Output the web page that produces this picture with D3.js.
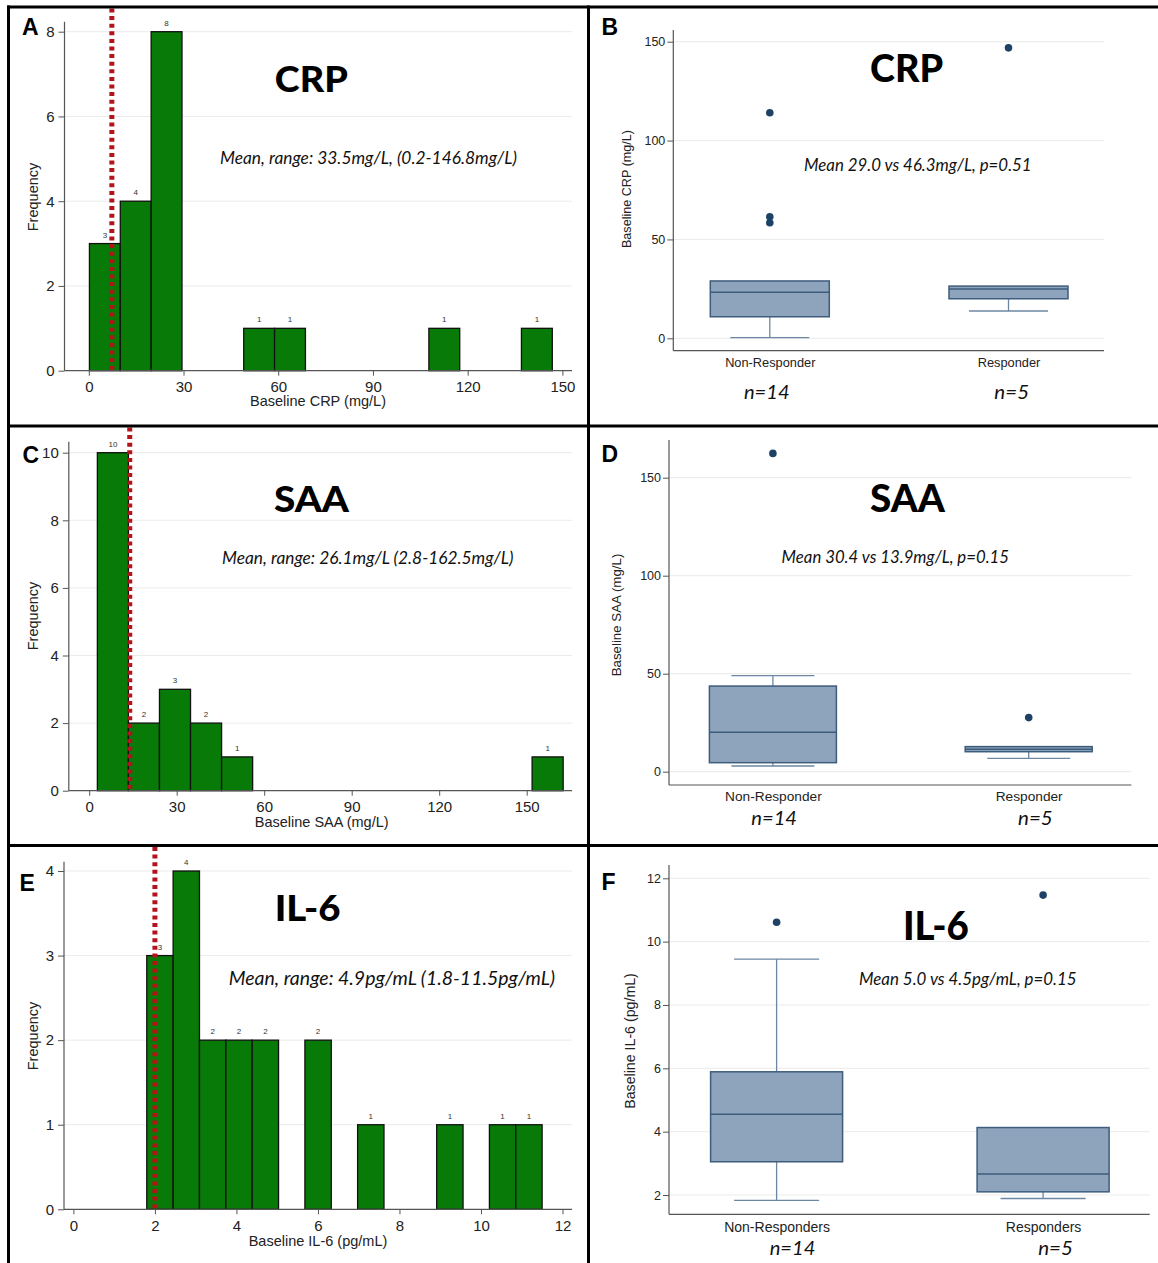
<!DOCTYPE html>
<html><head><meta charset="utf-8">
<script src="https://cdn.jsdelivr.net/npm/d3@7"></script>
<style>html,body{margin:0;padding:0;background:#fff;} svg{display:block;}</style>
</head><body><svg id="c" width="1158" height="1263"></svg>
<script>
// ---------------- DATA ----------------
// Histograms (15 equal-width bins from min to max, counts per bin)
const crpHistRange = [0.2, 146.8];
const crpHistCounts = [3, 4, 8, 0, 0, 1, 1, 0, 0, 0, 0, 1, 0, 0, 1];
const crpCutoff = 7.3;
const crpHistXTicks = [0, 30, 60, 90, 120, 150];
const crpFreqTicks = [0, 2, 4, 6, 8];

const saaHistRange = [2.8, 162.5];
const saaHistCounts = [10, 2, 3, 2, 1, 0, 0, 0, 0, 0, 0, 0, 0, 0, 1];
const saaCutoff = 13.9;
const saaHistXTicks = [0, 30, 60, 90, 120, 150];
const saaFreqTicks = [0, 2, 4, 6, 8, 10];

const il6HistRange = [1.8, 11.5];
const il6HistCounts = [3, 4, 2, 2, 2, 0, 2, 0, 1, 0, 0, 1, 0, 1, 1];
const il6Cutoff = 2.0;
const il6HistXTicks = [0, 2, 4, 6, 8, 10, 12];
const il6FreqTicks = [0, 1, 2, 3, 4];

// Box plots: [lower whisker, Q1, median, Q3, upper whisker]
const crpGroups = ["Non-Responder", "Responder"];
const crpBoxNonResp = [0.3, 10.9, 23.3, 29.0, 29.0];
const crpBoxResp = [13.8, 20.0, 24.9, 26.4, 26.4];
const crpOutNonResp = [114.1, 61.5, 58.4];
const crpOutResp = [146.9];
const crpBoxTicks = [0, 50, 100, 150];

const saaGroups = ["Non-Responder", "Responder"];
const saaBoxNonResp = [2.9, 4.6, 20.1, 43.7, 49.0];
const saaBoxResp = [6.8, 10.2, 11.4, 12.8, 12.8];
const saaOutNonResp = [162.4];
const saaOutResp = [27.6];
const saaBoxTicks = [0, 50, 100, 150];

const il6Groups = ["Non-Responders", "Responders"];
const il6BoxNonResp = [1.83, 3.05, 4.55, 5.89, 9.45];
const il6BoxResp = [1.89, 2.10, 2.66, 4.13, 4.13];
const il6OutNonResp = [10.61];
const il6OutResp = [11.47];
const il6BoxTicks = [2, 4, 6, 8, 10, 12];

const groupSizes = ["n=14", "n=5"];

// Texts
const histTitles = ["CRP", "SAA", "IL-6"];
const histNotes = ["Mean, range: 33.5mg/L, (0.2-146.8mg/L)",
                   "Mean, range: 26.1mg/L (2.8-162.5mg/L)",
                   "Mean, range: 4.9pg/mL (1.8-11.5pg/mL)"];
const histXLabels = ["Baseline CRP (mg/L)", "Baseline SAA (mg/L)", "Baseline IL-6 (pg/mL)"];
const boxNotes = ["Mean 29.0 vs 46.3mg/L, p=0.51",
                  "Mean 30.4 vs 13.9mg/L, p=0.15",
                  "Mean 5.0 vs 4.5pg/mL, p=0.15"];
const boxYLabels = ["Baseline CRP (mg/L)", "Baseline SAA (mg/L)", "Baseline IL-6 (pg/mL)"];
const panelLetters = ["A", "B", "C", "D", "E", "F"];

// ---------------- DRAWING ----------------
const svg = d3.select("#c");
const AX = "'Liberation Sans', Arial, Helvetica, sans-serif";
const CAL = "Lato, 'Open Sans', sans-serif";
const GREEN = "#087a08";
const BOXFILL = "#8da4bc";
const BOXLINE = "#3e5c7c";
const WHISK = "#6d87a2";
const DOT = "#1d4266";
const GRID = "#ebebeb";
const AXC = "#555";
const fmt = d3.format("~g");

// size text by cap height, then fit it to the measured width
function capFit(t, capH, w) {
  t.attr("font-size", capH / 0.7165);
  t.attr("textLength", w).attr("lengthAdjust", "spacingAndGlyphs");
  return t;
}

function styleAxis(g, fs) {
  g.select(".domain").remove();
  g.selectAll(".tick line").attr("stroke", AXC).attr("stroke-width", 1);
  g.selectAll(".tick text").attr("fill", "#222").attr("font-family", AX).attr("font-size", fs);
}

function histogram(cfg) {
  const g = svg.append("g");
  const x = d3.scaleLinear().domain(cfg.xAnch).range(cfg.xAnchP);
  const y = d3.scaleLinear().domain(cfg.yAnch).range(cfg.yAnchP);
  const y0 = y(0);
  g.selectAll(".grid").data(cfg.yTicks.filter(d => d > 0)).join("line")
    .attr("x1", cfg.axisL).attr("x2", cfg.axisR)
    .attr("y1", d => y(d)).attr("y2", d => y(d))
    .attr("stroke", GRID).attr("stroke-width", 1);
  const bw = (cfg.range[1] - cfg.range[0]) / cfg.counts.length;
  const bins = cfg.counts.map((c, i) => ({c, a: cfg.range[0] + i * bw, b: cfg.range[0] + (i + 1) * bw}))
    .filter(d => d.c > 0);
  g.selectAll(".bar").data(bins).join("rect")
    .attr("x", d => x(d.a)).attr("width", d => x(d.b) - x(d.a))
    .attr("y", d => y(d.c)).attr("height", d => y0 - y(d.c))
    .attr("fill", GREEN).attr("stroke", "#111").attr("stroke-width", 1.3);
  g.selectAll(".lbl").data(bins).join("text")
    .attr("x", d => (x(d.a) + x(d.b)) / 2).attr("y", d => y(d.c) - 6)
    .attr("text-anchor", "middle").attr("font-family", AX).attr("font-size", 8)
    .attr("fill", "#333").text(d => d.c);
  g.append("g").attr("transform", `translate(0,${y0})`)
    .call(d3.axisBottom(x).tickValues(cfg.xTicks).tickFormat(fmt).tickSize(5).tickPadding(6).tickSizeOuter(0))
    .call(a => styleAxis(a, 15));
  g.append("g").attr("transform", `translate(${cfg.axisL},0)`)
    .call(d3.axisLeft(y).tickValues(cfg.yTicks).tickFormat(fmt).tickSize(6).tickPadding(4).tickSizeOuter(0))
    .call(a => styleAxis(a, 15));
  g.append("line").attr("x1", cfg.axisL).attr("x2", cfg.axisL).attr("y1", cfg.topP).attr("y2", y0)
    .attr("stroke", AXC).attr("stroke-width", 1.2);
  g.append("line").attr("x1", cfg.axisL).attr("x2", cfg.axisR).attr("y1", y0).attr("y2", y0)
    .attr("stroke", AXC).attr("stroke-width", 1.2);
  g.append("line").attr("x1", x(cfg.cutoff)).attr("x2", x(cfg.cutoff))
    .attr("y1", cfg.panelTop).attr("y2", y0 - 1)
    .attr("stroke", "#b3141c").attr("stroke-width", 5).attr("stroke-dasharray", "4,3.6");
  g.append("text").attr("x", cfg.xLab[0]).attr("y", cfg.xLab[1]).attr("text-anchor", "middle")
    .attr("font-family", AX).attr("font-size", 14.5).attr("fill", "#222").text(cfg.xLabel);
  g.append("text").attr("transform", `translate(${cfg.yLab[0]},${cfg.yLab[1]}) rotate(-90)`)
    .attr("text-anchor", "middle").attr("font-family", AX).attr("font-size", 14.5).attr("fill", "#222")
    .text("Frequency");
  capFit(g.append("text").attr("x", cfg.title[0] - cfg.title[2] / 2).attr("y", cfg.title[1])
    .attr("font-family", CAL).attr("font-weight", 900).attr("fill", "#000").text(cfg.titleText), cfg.title[3], cfg.title[2]);
  capFit(g.append("text").attr("x", cfg.note[0] - cfg.note[2] / 2).attr("y", cfg.note[1])
    .attr("font-family", CAL).attr("font-style", "italic").attr("fill", "#111").text(cfg.noteText), cfg.note[3], cfg.note[2]);
  g.append("text").attr("x", cfg.letter[0]).attr("y", cfg.letter[1]).attr("font-family", AX)
    .attr("font-weight", 700).attr("font-size", 23).attr("fill", "#000").text(cfg.letterText);
}

function boxplot(cfg) {
  const g = svg.append("g");
  const y = d3.scaleLinear().domain(cfg.yAnch).range(cfg.yAnchP);
  const x = d3.scalePoint().domain(cfg.groups).range(cfg.centers);
  g.selectAll(".grid").data(cfg.yTicks).join("line")
    .attr("x1", cfg.axisL).attr("x2", cfg.axisR)
    .attr("y1", d => y(d)).attr("y2", d => y(d))
    .attr("stroke", GRID).attr("stroke-width", 1);
  cfg.groups.forEach((grp, i) => {
    const [lo, q1, md, q3, hi] = cfg.stats[i];
    const cx = x(grp), hw = cfg.boxW / 2, cw = cfg.capW / 2;
    if (lo < q1) {
      g.append("line").attr("x1", cx).attr("x2", cx).attr("y1", y(q1)).attr("y2", y(lo))
        .attr("stroke", WHISK).attr("stroke-width", 1.3);
      g.append("line").attr("x1", cx - cw).attr("x2", cx + cw).attr("y1", y(lo)).attr("y2", y(lo))
        .attr("stroke", WHISK).attr("stroke-width", 1.3);
    }
    if (hi > q3) {
      g.append("line").attr("x1", cx).attr("x2", cx).attr("y1", y(q3)).attr("y2", y(hi))
        .attr("stroke", WHISK).attr("stroke-width", 1.3);
      g.append("line").attr("x1", cx - cw).attr("x2", cx + cw).attr("y1", y(hi)).attr("y2", y(hi))
        .attr("stroke", WHISK).attr("stroke-width", 1.3);
    }
    g.append("rect").attr("x", cx - hw).attr("width", cfg.boxW)
      .attr("y", y(q3)).attr("height", y(q1) - y(q3))
      .attr("fill", BOXFILL).attr("stroke", BOXLINE).attr("stroke-width", 1.5);
    g.append("line").attr("x1", cx - hw).attr("x2", cx + hw).attr("y1", y(md)).attr("y2", y(md))
      .attr("stroke", BOXLINE).attr("stroke-width", 1.5);
    g.selectAll(null).data(cfg.outliers[i]).join("circle")
      .attr("cx", cx).attr("cy", d => y(d)).attr("r", 3.8).attr("fill", DOT);
    const np = cfg.nPos[i];
    capFit(g.append("text").attr("x", np[0] - np[2] / 2).attr("y", np[1])
      .attr("font-family", CAL).attr("font-style", "italic").attr("fill", "#111").text(groupSizes[i]), 14, np[2]);
  });
  g.append("g").attr("transform", `translate(0,${cfg.bottomP})`)
    .call(d3.axisBottom(x).tickSize(0).tickPadding(cfg.catPad))
    .call(a => styleAxis(a, cfg.catFs));
  g.append("g").attr("transform", `translate(${cfg.axisL},0)`)
    .call(d3.axisLeft(y).tickValues(cfg.yTicks).tickFormat(fmt).tickSize(6).tickPadding(2).tickSizeOuter(0))
    .call(a => styleAxis(a, 12.5));
  g.append("line").attr("x1", cfg.axisL).attr("x2", cfg.axisL).attr("y1", cfg.topP).attr("y2", cfg.bottomP)
    .attr("stroke", AXC).attr("stroke-width", 1.2);
  g.append("line").attr("x1", cfg.axisL).attr("x2", cfg.axisR).attr("y1", cfg.bottomP).attr("y2", cfg.bottomP)
    .attr("stroke", AXC).attr("stroke-width", 1.2);
  g.append("text").attr("transform", `translate(${cfg.yLab[0]},${cfg.yLab[1]}) rotate(-90)`)
    .attr("text-anchor", "middle").attr("font-family", AX).attr("font-size", cfg.yLab[2]).attr("fill", "#222")
    .text(cfg.yLabel);
  capFit(g.append("text").attr("x", cfg.title[0] - cfg.title[2] / 2).attr("y", cfg.title[1])
    .attr("font-family", CAL).attr("font-weight", 900).attr("fill", "#000").text(cfg.titleText), cfg.title[3], cfg.title[2]);
  capFit(g.append("text").attr("x", cfg.note[0] - cfg.note[2] / 2).attr("y", cfg.note[1])
    .attr("font-family", CAL).attr("font-style", "italic").attr("fill", "#111").text(cfg.noteText), cfg.note[3], cfg.note[2]);
  g.append("text").attr("x", cfg.letter[0]).attr("y", cfg.letter[1]).attr("font-family", AX)
    .attr("font-weight", 700).attr("font-size", 23).attr("fill", "#000").text(cfg.letterText);
}

// Panel A
histogram({panelTop: 8.5, counts: crpHistCounts, range: crpHistRange, cutoff: crpCutoff,
  xTicks: crpHistXTicks, yTicks: crpFreqTicks,
  xAnch: [0, 150], xAnchP: [88.8, 562.4], axisL: 64.5, axisR: 572,
  yAnch: [0, 8], yAnchP: [370.7, 31.7], topP: 21.7,
  titleText: histTitles[0], title: [311.3, 91.7, 73, 26.5],
  noteText: histNotes[0], note: [368.5, 163.5, 297, 12.5],
  xLabel: histXLabels[0], xLab: [318, 406], yLab: [37.5, 197],
  letterText: panelLetters[0], letter: [22, 35]});
// Panel C
histogram({panelTop: 427.5, counts: saaHistCounts, range: saaHistRange, cutoff: saaCutoff,
  xTicks: saaHistXTicks, yTicks: saaFreqTicks,
  xAnch: [0, 150], xAnchP: [89.2, 526.7], axisL: 68.8, axisR: 572,
  yAnch: [0, 10], yAnchP: [790.7, 452.7], topP: 441.7,
  titleText: histTitles[1], title: [311.5, 512, 75, 26],
  noteText: histNotes[1], note: [367.8, 564, 291.5, 12.5],
  xLabel: histXLabels[1], xLab: [321.7, 826.5], yLab: [37.5, 616],
  letterText: panelLetters[2], letter: [22.6, 463.3]});
// Panel E
histogram({panelTop: 847, counts: il6HistCounts, range: il6HistRange, cutoff: il6Cutoff,
  xTicks: il6HistXTicks, yTicks: il6FreqTicks,
  xAnch: [0, 12], xAnchP: [73.4, 562.5], axisL: 64, axisR: 572,
  yAnch: [0, 4], yAnchP: [1209.3, 871], topP: 861.7,
  titleText: histTitles[2], title: [307.6, 921, 65.8, 25.5],
  noteText: histNotes[2], note: [391.9, 985, 326.3, 13.5],
  xLabel: histXLabels[2], xLab: [318, 1246], yLab: [37.5, 1036],
  letterText: panelLetters[4], letter: [19.6, 891]});

// Panel B
boxplot({groups: crpGroups, stats: [crpBoxNonResp, crpBoxResp], outliers: [crpOutNonResp, crpOutResp],
  yTicks: crpBoxTicks, yAnch: [0, 150], yAnchP: [338.3, 41.7], topP: 30, bottomP: 350.7,
  axisL: 673.3, axisR: 1104, centers: [769.8, 1008.5], boxW: 119, capW: 79,
  catPad: 7, catFs: 12.8, nPos: [[766.8, 399.3, 45.7], [1011.7, 399.3, 34.7]],
  yLabel: boxYLabels[0], yLab: [630.5, 189, 12.6],
  titleText: histTitles[0], title: [906.6, 81.7, 73.1, 27.5],
  noteText: boxNotes[0], note: [917.8, 171, 227.6, 11.8],
  letterText: panelLetters[1], letter: [601.4, 35]});
// Panel D
boxplot({groups: saaGroups, stats: [saaBoxNonResp, saaBoxResp], outliers: [saaOutNonResp, saaOutResp],
  yTicks: saaBoxTicks, yAnch: [0, 150], yAnchP: [771.7, 477.7], topP: 440, bottomP: 785,
  axisL: 669, axisR: 1131.4, centers: [772.9, 1028.7], boxW: 127, capW: 83,
  catPad: 6.3, catFs: 13.7, nPos: [[774.2, 825, 45.7], [1035.4, 825, 34.7]],
  yLabel: boxYLabels[1], yLab: [620.8, 615, 13.3],
  titleText: histTitles[1], title: [907.5, 512.3, 75, 27],
  noteText: boxNotes[1], note: [895.3, 563.3, 227.4, 12],
  letterText: panelLetters[3], letter: [601.4, 462.3]});
// Panel F
boxplot({groups: il6Groups, stats: [il6BoxNonResp, il6BoxResp], outliers: [il6OutNonResp, il6OutResp],
  yTicks: il6BoxTicks, yAnch: [2, 12], yAnchP: [1195, 878.3], topP: 865, bottomP: 1214.3,
  axisL: 669, axisR: 1149.7, centers: [776.6, 1043.1], boxW: 132, capW: 85,
  catPad: 7.8, catFs: 14, nPos: [[792.5, 1255, 45.7], [1055.5, 1255, 34.7]],
  yLabel: boxYLabels[2], yLab: [634.7, 1041, 14.2],
  titleText: histTitles[2], title: [935.9, 940, 65.8, 28.5],
  noteText: boxNotes[2], note: [967.8, 985, 217.6, 11.8],
  letterText: panelLetters[5], letter: [601.4, 890]});

// Panel borders
const borders = svg.append("g").attr("stroke", "#000").attr("stroke-width", 3);
borders.append("line").attr("x1", 7).attr("x2", 1158).attr("y1", 7).attr("y2", 7);
borders.append("line").attr("x1", 8.5).attr("x2", 8.5).attr("y1", 5.5).attr("y2", 1263);
borders.append("line").attr("x1", 588.5).attr("x2", 588.5).attr("y1", 5.5).attr("y2", 1263);
borders.append("line").attr("x1", 7).attr("x2", 1158).attr("y1", 426).attr("y2", 426);
borders.append("line").attr("x1", 7).attr("x2", 1158).attr("y1", 845.5).attr("y2", 845.5);
</script></body></html>
